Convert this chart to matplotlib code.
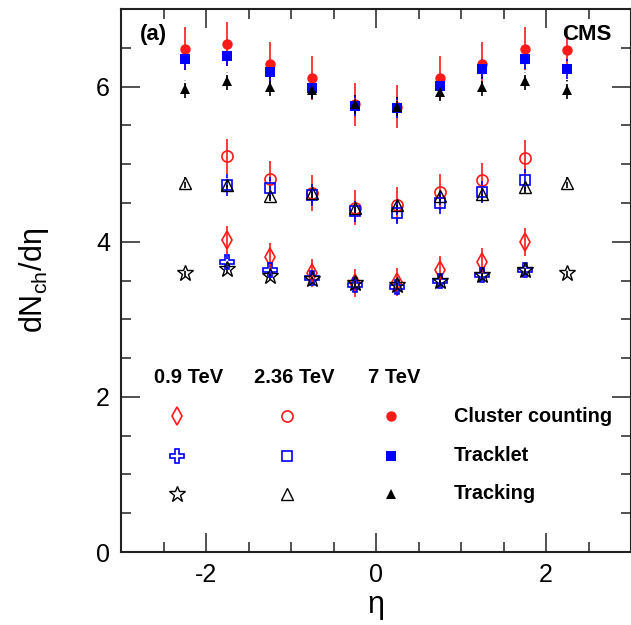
import matplotlib
matplotlib.use("Agg")
import matplotlib.pyplot as plt
from matplotlib.ticker import MultipleLocator

plt.rcParams['font.family'] = ['Liberation Sans', 'DejaVu Sans']
plt.rcParams['mathtext.fontset'] = 'custom'
plt.rcParams['mathtext.rm'] = 'Liberation Sans'
plt.rcParams['mathtext.it'] = 'Liberation Sans:italic'
plt.rcParams['axes.unicode_minus'] = False

# eta bin centres
eta = [-2.25, -1.75, -1.25, -0.75, -0.25, 0.25, 0.75, 1.25, 1.75, 2.25]
eta_inner = eta[1:-1]

# 7 TeV
cluster_7 = [6.49, 6.55, 6.29, 6.11, 5.77, 5.74, 6.11, 6.29, 6.49, 6.47]
tracklet_7 = [6.35, 6.39, 6.19, 5.98, 5.75, 5.73, 6.01, 6.23, 6.36, 6.23]
tracking_7 = [5.97, 6.07, 6.00, 5.96, 5.77, 5.74, 5.93, 6.00, 6.07, 5.96]
err_cluster_7 = 0.28
err_tracklet_7 = 0.13
err_tracking_7 = 0.12

# 2.36 TeV
cluster_236 = [5.10, 4.81, 4.63, 4.44, 4.47, 4.64, 4.79, 5.08]
tracklet_236 = [4.73, 4.69, 4.60, 4.39, 4.37, 4.50, 4.64, 4.80]
tracking_236 = [4.76, 4.73, 4.59, 4.63, 4.44, 4.47, 4.59, 4.61, 4.70, 4.76]
err_cluster_236 = 0.23
err_tracklet_236 = 0.14
err_tracking_236 = 0.07

# 0.9 TeV
cluster_09 = [4.02, 3.80, 3.60, 3.47, 3.48, 3.64, 3.74, 4.00]
tracklet_09 = [3.74, 3.64, 3.53, 3.44, 3.42, 3.49, 3.57, 3.64]
tracking_09 = [3.60, 3.65, 3.56, 3.52, 3.47, 3.44, 3.50, 3.57, 3.64, 3.60]
err_cluster_09 = 0.18
err_tracklet_09 = 0.08
err_tracking_09 = 0.05

energies = ['0.9 TeV', '2.36 TeV', '7 TeV']
methods = ['Cluster counting', 'Tracklet', 'Tracking']

RED = '#ff1a1a'
BLUE = '#0000ff'
BLACK = '#000000'

styles = {
    ('Cluster counting', '0.9 TeV'): dict(marker='d', ms=9, mfc='none', mec=RED, mew=1.2),
    ('Cluster counting', '2.36 TeV'): dict(marker='o', ms=8, mfc='none', mec=RED, mew=1.2),
    ('Cluster counting', '7 TeV'): dict(marker='o', ms=7.5, mfc=RED, mec=RED, mew=0),
    ('Tracklet', '0.9 TeV'): dict(marker='P', ms=10, mfc='none', mec=BLUE, mew=1.2),
    ('Tracklet', '2.36 TeV'): dict(marker='s', ms=7.5, mfc='none', mec=BLUE, mew=1.2),
    ('Tracklet', '7 TeV'): dict(marker='s', ms=7.5, mfc=BLUE, mec=BLUE, mew=0),
    ('Tracking', '0.9 TeV'): dict(marker='*', ms=12, mfc='none', mec=BLACK, mew=1.0),
    ('Tracking', '2.36 TeV'): dict(marker='^', ms=8.5, mfc='none', mec=BLACK, mew=1.0),
    ('Tracking', '7 TeV'): dict(marker='^', ms=7.5, mfc=BLACK, mec=BLACK, mew=0),
}

series = [
    ('Cluster counting', '0.9 TeV', eta_inner, cluster_09, err_cluster_09, RED, '-'),
    ('Tracklet', '0.9 TeV', eta_inner, tracklet_09, err_tracklet_09, BLUE, '--'),
    ('Tracking', '0.9 TeV', eta, tracking_09, err_tracking_09, BLACK, '--'),
    ('Cluster counting', '2.36 TeV', eta_inner, cluster_236, err_cluster_236, RED, '-'),
    ('Tracklet', '2.36 TeV', eta_inner, tracklet_236, err_tracklet_236, BLUE, '--'),
    ('Tracking', '2.36 TeV', eta, tracking_236, err_tracking_236, BLACK, '--'),
    ('Cluster counting', '7 TeV', eta, cluster_7, err_cluster_7, RED, '-'),
    ('Tracklet', '7 TeV', eta, tracklet_7, err_tracklet_7, BLUE, '--'),
    ('Tracking', '7 TeV', eta, tracking_7, err_tracking_7, BLACK, '--'),
]

fig = plt.figure(figsize=(6.31, 6.25), dpi=100)
ax = fig.add_axes([121 / 631, 1 - 552 / 625, 510 / 631, 543 / 625])

for method, energy, x, y, err, color, ls in series:
    line, caps, bars = ax.errorbar(x, y, yerr=err, fmt='none', ecolor=color,
                                   elinewidth=1.2, capsize=0, zorder=2)
    bars[0].set_linestyle(ls)
    ax.plot(x, y, ls='none', zorder=3, **styles[(method, energy)])

ax.set_xlim(-3, 3)
ax.set_ylim(0, 7)
ax.xaxis.set_major_locator(MultipleLocator(2))
ax.xaxis.set_minor_locator(MultipleLocator(0.5))
ax.yaxis.set_major_locator(MultipleLocator(2))
ax.yaxis.set_minor_locator(MultipleLocator(0.5))
ax.tick_params(which='both', direction='in', top=True, right=True,
               labelsize=18, width=1.2, color='#333333')
ax.tick_params(which='major', length=14, pad=8)
ax.tick_params(which='minor', length=7)
for sp in ax.spines.values():
    sp.set_linewidth(1.5)
    sp.set_color('#222222')

ax.set_xlabel('η', fontsize=22, labelpad=2)
ax.set_ylabel(r'dN$_{\rm ch}$/dη', fontsize=22, labelpad=32)

ax.text(0.037, 0.953, '(a)', transform=ax.transAxes, fontsize=16,
        fontweight='bold', va='center', ha='left')
ax.text(0.961, 0.953, 'CMS', transform=ax.transAxes, fontsize=16,
        fontweight='bold', va='center', ha='right')

# hand-built legend: energy columns x method rows
col_x = [0.11, 0.325, 0.529]
head_x = [0.132, 0.34, 0.535]
row_y = [0.25, 0.177, 0.107]
for j, energy in enumerate(energies):
    ax.text(head_x[j], 0.321, energy, transform=ax.transAxes, fontsize=14.5,
            fontweight='bold', ha='center', va='center')
    for i, method in enumerate(methods):
        ax.plot([col_x[j]], [row_y[i]], transform=ax.transAxes, ls='none',
                **styles[(method, energy)])
for i, method in enumerate(methods):
    ax.text(0.653, row_y[i], method, transform=ax.transAxes, fontsize=14.3,
            fontweight='bold', ha='left', va='center')

fig.savefig('out.png', dpi=100)
